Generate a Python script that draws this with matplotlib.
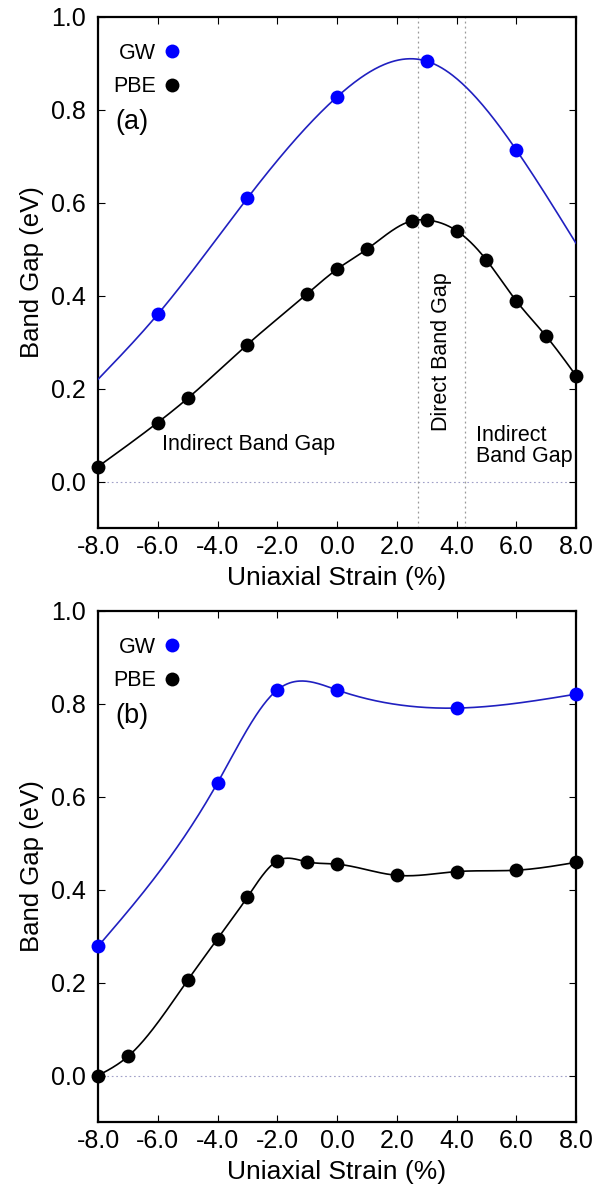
import numpy as np
import matplotlib
matplotlib.use("Agg")
import matplotlib.pyplot as plt
from matplotlib.lines import Line2D
from matplotlib.ticker import FormatStrFormatter

plt.rcParams['font.family'] = ['Liberation Sans', 'DejaVu Sans']

# panel (a)
gw_a_x = [-6, -3, 0, 3, 6]
gw_a_y = [0.360, 0.610, 0.828, 0.905, 0.714]
# the GW curve runs edge to edge; its end values
gw_a_curve_x = [-8, -6, -3, 0, 3, 6, 8]
gw_a_curve_y = [0.220, 0.360, 0.610, 0.828, 0.905, 0.714, 0.513]
pbe_a_x = [-8, -6, -5, -3, -1, 0, 1, 2.5, 3, 4, 5, 6, 7, 8]
pbe_a_y = [0.032, 0.127, 0.179, 0.295, 0.404, 0.457, 0.500, 0.561, 0.563, 0.540, 0.477, 0.389, 0.313, 0.228]
direct_lo, direct_hi = 2.7, 4.3

# panel (b)
gw_b_x = [-8, -4, -2, 0, 4, 8]
gw_b_y = [0.278, 0.630, 0.830, 0.830, 0.791, 0.821]
pbe_b_x = [-8, -7, -5, -4, -3, -2, -1, 0, 2, 4, 6, 8]
pbe_b_y = [0.000, 0.041, 0.205, 0.294, 0.384, 0.462, 0.460, 0.455, 0.431, 0.439, 0.442, 0.459]

xticks = np.arange(-8, 9, 2)
yticks = np.arange(0, 1.01, 0.2)


def natural_spline(x, y, xs):
    # natural cubic spline through the points
    x = np.asarray(x, float)
    y = np.asarray(y, float)
    n = len(x)
    h = np.diff(x)
    A = np.zeros((n, n))
    r = np.zeros(n)
    A[0, 0] = A[-1, -1] = 1
    for i in range(1, n - 1):
        A[i, i - 1] = h[i - 1]
        A[i, i] = 2 * (h[i - 1] + h[i])
        A[i, i + 1] = h[i]
        r[i] = 3 * ((y[i + 1] - y[i]) / h[i] - (y[i] - y[i - 1]) / h[i - 1])
    c = np.linalg.solve(A, r)
    b = (y[1:] - y[:-1]) / h - h * (2 * c[:-1] + c[1:]) / 3
    d = (c[1:] - c[:-1]) / (3 * h)
    idx = np.clip(np.searchsorted(x, xs) - 1, 0, n - 2)
    t = xs - x[idx]
    return y[idx] + b[idx] * t + c[idx] * t ** 2 + d[idx] * t ** 3


def style_axes(ax):
    ax.set_xlim(-8, 8)
    ax.set_ylim(-0.1, 1.0)
    ax.set_xticks(xticks)
    ax.set_yticks(yticks)
    ax.xaxis.set_major_formatter(FormatStrFormatter('%.1f'))
    ax.yaxis.set_major_formatter(FormatStrFormatter('%.1f'))
    ax.tick_params(direction='in', top=True, right=True, length=5, width=0.8,
                   labelsize=18)
    ax.tick_params(axis='x', pad=5)
    ax.tick_params(axis='y', pad=9)
    for s in ax.spines.values():
        s.set_linewidth(1.6)
    ax.axhline(0, color='#a0a0c8', lw=0.8, ls=(0, (1.5, 2.5)), zorder=1)
    ax.set_xlabel('Uniaxial Strain (%)', fontsize=19)
    ax.set_ylabel('Band Gap (eV)', fontsize=18.5)
    ax.xaxis.set_label_coords(0.5, -0.075)
    ax.yaxis.set_label_coords(-0.112, 0.5)


def draw_panel(ax, gx, gy, cx, cy, px, py, tag):
    xs = np.linspace(min(cx), max(cx), 400)
    ax.plot(xs, natural_spline(cx, cy, xs), color='#2020c0', lw=1.2, zorder=3)
    xs2 = np.linspace(min(px), max(px), 400)
    ax.plot(xs2, natural_spline(px, py, xs2), color='black', lw=1.2, zorder=3)
    ax.plot(gx, gy, 'o', color='#0000ff', ms=10, mec='none', zorder=4, clip_on=False)
    ax.plot(px, py, 'o', color='black', ms=10, mec='none', zorder=4, clip_on=False)
    handles = [Line2D([], [], ls='none', marker='o', color='#0000ff', mec='none', ms=10),
               Line2D([], [], ls='none', marker='o', color='black', mec='none', ms=10)]
    ax.legend(handles, ['GW', 'PBE'], loc='upper left', bbox_to_anchor=(0.005, 0.975),
              frameon=False, markerfirst=False, fontsize=15.5, handlelength=0.8,
              handletextpad=0.35, labelspacing=0.58, borderaxespad=0.2)
    ax.text(0.036, 0.795, tag, transform=ax.transAxes, fontsize=19.5, va='center')
    style_axes(ax)


fig = plt.figure(figsize=(5.98, 11.91), dpi=100)
ax1 = fig.add_axes([98 / 598, 1 - 528 / 1191, 478 / 598, 511 / 1191])
ax2 = fig.add_axes([98 / 598, 1 - 1122 / 1191, 478 / 598, 511 / 1191])

draw_panel(ax1, gw_a_x, gw_a_y, gw_a_curve_x, gw_a_curve_y, pbe_a_x, pbe_a_y, '(a)')
for xv in (direct_lo, direct_hi):
    ax1.axvline(xv, color='#999999', lw=0.9, ls=(0, (1.5, 2.5)), zorder=1)
ax1.text(-2.95, 0.079, 'Indirect Band Gap', fontsize=15.5, ha='center', va='center')
ax1.text(3.5, 0.28, 'Direct Band Gap', fontsize=15.5, ha='center', va='center', rotation=90)
ax1.text(4.65, 0.076, 'Indirect\nBand Gap', fontsize=15.5, ha='left', va='center',
         linespacing=1.0)

draw_panel(ax2, gw_b_x, gw_b_y, gw_b_x, gw_b_y, pbe_b_x, pbe_b_y, '(b)')

fig.savefig('out.png', dpi=100)
